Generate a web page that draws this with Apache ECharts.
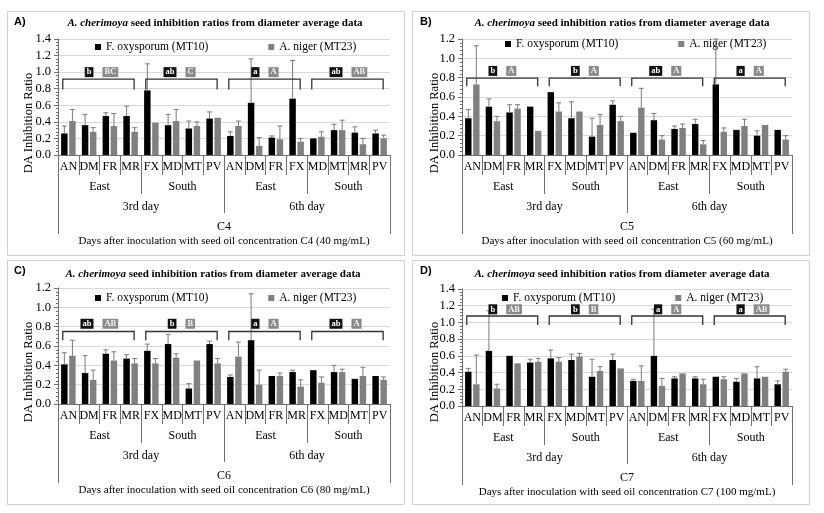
<!DOCTYPE html>
<html><head><meta charset="utf-8">
<script src="https://cdn.jsdelivr.net/npm/echarts/dist/echarts.min.js"></script>
<style>html,body{margin:0;padding:0;background:#fff}#c{width:824px;height:513px}</style>
</head><body><div id="c"></div><script>
// ---------- data ----------
const catsA = ['AN','DM','FR','MR','FX','MD','MT','PV','AN','DM','FR','FX','MD','MT','MR','PV'];
const catsB = ['AN','DM','FR','MR','FX','MD','MT','PV','AN','DM','FR','MR','FX','MD','MT','PV'];
const catsC = catsB.slice();
const catsD = catsB.slice();
const regions = ['East','South','East','South'];
const days = ['3rd day','6th day'];
const concLabels = ['C4','C5','C6','C7'];
const concTitles = [
  'Days after inoculation with seed oil concentration C4 (40 mg/mL)',
  'Days after inoculation with seed oil concentration C5 (60 mg/mL)',
  'Days after inoculation with seed oil concentration C6 (80 mg/mL)',
  'Days after inoculation with seed oil concentration C7 (100 mg/mL)'
];
const panelLetters = ['A)','B)','C)','D)'];
const seriesNames = ['F. oxysporum (MT10)','A. niger (MT23)'];
const yMaxes = [1.4,1.2,1.2,1.4];

const foxA   = [0.26,0.36,0.47,0.47,0.78,0.36,0.32,0.44, 0.23,0.63,0.21,0.68, 0.20,0.30,0.27,0.26];
const foxSdA = [0.09,0.13,0.04,0.12,0.32,0.13,0.09,0.08, 0.05,0.53,0.02,0.46, 0.00,0.07,0.07,0.04];
const nigA   = [0.41,0.28,0.35,0.28,0.39,0.41,0.35,0.45, 0.35,0.11,0.19,0.16, 0.22,0.30,0.13,0.20];
const nigSdA = [0.14,0.05,0.15,0.05,0.00,0.14,0.05,0.00, 0.06,0.10,0.16,0.04, 0.06,0.12,0.07,0.04];

const foxB   = [0.38,0.50,0.44,0.50,0.65,0.38,0.19,0.52, 0.23,0.36,0.27,0.32, 0.73,0.26,0.20,0.26];
const foxSdB = [0.09,0.08,0.08,0.00,0.00,0.17,0.19,0.04, 0.00,0.07,0.03,0.05, 0.47,0.00,0.05,0.00];
const nigB   = [0.73,0.35,0.48,0.25,0.45,0.45,0.31,0.35, 0.49,0.16,0.28,0.11, 0.24,0.30,0.31,0.16];
const nigSdB = [0.40,0.05,0.04,0.00,0.09,0.00,0.11,0.05, 0.20,0.04,0.04,0.04, 0.04,0.07,0.00,0.04];

const foxC   = [0.41,0.32,0.52,0.47,0.55,0.62,0.16,0.62, 0.28,0.66,0.29,0.33, 0.35,0.33,0.26,0.29];
const foxSdC = [0.12,0.18,0.04,0.04,0.07,0.10,0.05,0.03, 0.02,0.48,0.00,0.02, 0.00,0.07,0.00,0.00];
const nigC   = [0.50,0.25,0.45,0.42,0.42,0.48,0.45,0.42, 0.49,0.20,0.29,0.18, 0.22,0.33,0.29,0.25];
const nigSdC = [0.16,0.10,0.09,0.05,0.05,0.04,0.00,0.05, 0.15,0.15,0.03,0.07, 0.06,0.03,0.09,0.03];

const foxD   = [0.41,0.66,0.60,0.52,0.57,0.55,0.35,0.55, 0.30,0.60,0.33,0.33, 0.35,0.29,0.33,0.26];
const foxSdD = [0.04,0.48,0.00,0.04,0.10,0.07,0.21,0.07, 0.02,0.56,0.02,0.02, 0.00,0.04,0.14,0.04];
const nigD   = [0.26,0.21,0.51,0.53,0.53,0.59,0.42,0.45, 0.30,0.24,0.39,0.26, 0.32,0.39,0.35,0.41];
const nigSdD = [0.35,0.05,0.00,0.04,0.05,0.04,0.05,0.00, 0.18,0.09,0.00,0.06, 0.03,0.00,0.00,0.03];

const groupSpans = [[0,3],[4,7],[8,11],[12,15]];
const foxLettersA = ['b','ab','a','ab'];  const nigLettersA = ['BC','C','A','AB'];
const foxLettersB = ['b','b','ab','a'];   const nigLettersB = ['A','A','A','A'];
const foxLettersC = ['ab','b','a','ab'];  const nigLettersC = ['AB','B','A','A'];
const foxLettersD = ['b','b','a','a'];    const nigLettersD = ['AB','B','A','AB'];

// ---------- layout / style ----------
const SERIF = '"Liberation Serif","Times New Roman",serif';
const SANS = '"Liberation Sans",Arial,sans-serif';
const panels = [
  {cats:catsA, fox:foxA, foxSd:foxSdA, nig:nigA, nigSd:nigSdA, fl:foxLettersA, nl:nigLettersA,
   box:[7,11,397,244], grid:[58,39,332,116], leg:[95,41], title:[215,25], yname:[29,123], letter:[14,22], br:[0.915,0.79,1.0]},
  {cats:catsB, fox:foxB, foxSd:foxSdB, nig:nigB, nigSd:nigSdB, fl:foxLettersB, nl:nigLettersB,
   box:[412,11,397,244], grid:[462,39,330,116], leg:[505,38], title:[622,25], yname:[435,123], letter:[420,22], br:[0.795,0.71,0.87]},
  {cats:catsC, fox:foxC, foxSd:foxSdC, nig:nigC, nigSd:nigSdC, fl:foxLettersC, nl:nigLettersC,
   box:[7,260,397,244], grid:[58,288,332,116], leg:[95,292], title:[213,276], yname:[29,372], letter:[14,271], br:[0.75,0.66,0.83]},
  {cats:catsD, fox:foxD, foxSd:foxSdD, nig:nigD, nigSd:nigSdD, fl:foxLettersD, nl:nigLettersD,
   box:[412,260,397,244], grid:[462,289,330,117], leg:[502,292], title:[622,276], yname:[435,372], letter:[420,271], br:[1.077,0.97,1.157]}
];
const BAR_CAT_GAP = 0.30, BAR_GAP = 0.25;
const COLORS = ['#000000','#808080'];
const AXIS_COLOR = '#707070';

const grids=[], xAxes=[], yAxes=[], series=[], legends=[], titles=[], graphics=[];

panels.forEach((p,g)=>{
  grids.push({left:p.grid[0], top:p.grid[1], width:p.grid[2], height:p.grid[3]});
  const base = {gridIndex:g, type:'category', position:'bottom', boundaryGap:true,
    axisLine:{show:false, onZero:false}, splitLine:{show:false}};
  const tickStyle = {color:AXIS_COLOR, width:1};
  xAxes.push(Object.assign({}, base, {data:p.cats,
    axisLine:{show:true, onZero:false, lineStyle:{color:AXIS_COLOR}},
    axisTick:{show:true, interval:0, length:20, lineStyle:tickStyle},
    axisLabel:{interval:0, margin:6, fontSize:12, color:'#000', fontFamily:SERIF}}));
  xAxes.push(Object.assign({}, base, {data:regions,
    axisTick:{show:true, interval:0, length:39, lineStyle:tickStyle},
    axisLabel:{interval:0, margin:26, fontSize:12, color:'#000', fontFamily:SERIF}}));
  xAxes.push(Object.assign({}, base, {data:days,
    axisTick:{show:true, interval:0, length:58, lineStyle:tickStyle},
    axisLabel:{interval:0, margin:46, fontSize:12, color:'#000', fontFamily:SERIF}}));
  xAxes.push(Object.assign({}, base, {data:[concLabels[g]],
    axisTick:{show:true, interval:0, length:79, lineStyle:tickStyle},
    axisLabel:{interval:0, margin:66, fontSize:12, color:'#000', fontFamily:SERIF},
    name:concTitles[g], nameLocation:'middle', nameGap:81,
    nameTextStyle:{fontSize:11, color:'#000', fontFamily:SERIF}}));
  yAxes.push({gridIndex:g, type:'value', min:0, max:yMaxes[g], interval:0.2,
    axisLine:{show:true, lineStyle:{color:AXIS_COLOR}},
    axisTick:{show:true, length:4, lineStyle:{color:AXIS_COLOR}},
    minorTick:{show:true, splitNumber:5, length:2, lineStyle:{color:AXIS_COLOR}},
    axisLabel:{formatter:v=>v.toFixed(1), fontSize:12.5, color:'#000', fontFamily:SERIF, margin:7},
    splitLine:{show:true, lineStyle:{color:'#d9d9d9', width:1}}});

  const xi = g*4;
  [p.fox, p.nig].forEach((vals,k)=>{
    series.push({type:'bar', name:seriesNames[k], xAxisIndex:xi, yAxisIndex:g, data:vals,
      barCategoryGap:(BAR_CAT_GAP*100)+'%', barGap:(BAR_GAP*100)+'%',
      itemStyle:{color:COLORS[k]}, z:2, silent:true});
  });
  // error bars
  [[p.fox,p.foxSd],[p.nig,p.nigSd]].forEach(([vals,sds],k)=>{
    series.push({type:'custom', name:seriesNames[k]+' err', xAxisIndex:xi, yAxisIndex:g, z:5, silent:true,
      data: vals.map((v,i)=>[i, v, sds[i]]), encode:{x:0, y:1},
      renderItem:(params, api)=>{
        const sd = api.value(2); if(!sd) return null;
        const w = api.size([1,0])[0];
        const bw = w*(1-BAR_CAT_GAP)/(2+BAR_GAP);
        const off = k===0 ? (-w*(1-BAR_CAT_GAP)/2 + bw/2) : (w*(1-BAR_CAT_GAP)/2 - bw/2);
        const p0 = api.coord([api.value(0), api.value(1)]);
        const p1 = api.coord([api.value(0), api.value(1)+sd]);
        const x = p0[0]+off;
        const st = {stroke:'#7a7a7a', lineWidth:1};
        return {type:'group', children:[
          {type:'line', shape:{x1:x, y1:p0[1], x2:x, y2:p1[1]}, style:st},
          {type:'line', shape:{x1:x-2.5, y1:p1[1], x2:x+2.5, y2:p1[1]}, style:st}
        ]};
      }});
  });
  // significance brackets
  series.push({type:'custom', name:'brackets', xAxisIndex:xi, yAxisIndex:g, z:6, silent:true,
    data: groupSpans.map(s=>[s[0], s[1], p.br[0]]), encode:{x:[0,1], y:2},
    renderItem:(params, api)=>{
      const i = params.dataIndex;
      const w = api.size([1,0])[0];
      const a = api.coord([api.value(0), p.br[0]]);
      const b = api.coord([api.value(1), p.br[0]]);
      const yF = api.coord([api.value(0), p.br[1]])[1];
      const yT = api.coord([api.value(0), p.br[2]])[1];
      const x1 = a[0]-0.27*w, x2 = b[0]+0.17*w, yL = a[1];
      const c = (x1+x2)/2;
      return {type:'group', children:[
        {type:'polyline', shape:{points:[[x1,yF],[x1,yL],[x2,yL],[x2,yF]]}, style:{stroke:'#333', lineWidth:1.3, fill:null}},
        {type:'text', x:c-5, y:yT, style:{text:p.fl[i], fill:'#fff', backgroundColor:'#111', padding:[1,2,0,2],
          font:'bold 8.5px '+SERIF, align:'right', verticalAlign:'middle'}},
        {type:'text', x:c+4, y:yT, style:{text:p.nl[i], fill:'#f2f2f2', backgroundColor:'#8a8a8a', padding:[1,2,0,2],
          font:'bold 8.5px '+SERIF, align:'left', verticalAlign:'middle'}}
      ]};
    }});

  legends.push({data:seriesNames.map(n=>({name:n, icon:'rect'})), left:p.leg[0], top:p.leg[1], padding:0,
    itemWidth:6, itemHeight:6, itemGap:60, selectedMode:false,
    textStyle:{fontSize:11.5, color:'#000', fontFamily:SERIF}});
  titles.push({text:'{i|A. cherimoya}{b| seed inhibition ratios from diameter average data}',
    left:p.title[0], top:p.title[1]-7, textAlign:'center', padding:0,
    textStyle:{rich:{i:{fontStyle:'italic', fontWeight:'bold', fontSize:11, fontFamily:SERIF, color:'#000'},
                     b:{fontWeight:'bold', fontSize:11, fontFamily:SERIF, color:'#000'}}}});
  graphics.push({type:'rect', shape:{x:p.box[0]+0.5, y:p.box[1]+0.5, width:p.box[2], height:p.box[3]},
    style:{fill:null, stroke:'#cfcfcf', lineWidth:1}, z:-1, silent:true});
  graphics.push({type:'text', x:p.letter[0], y:p.letter[1], style:{text:panelLetters[g], font:'bold 11px '+SANS, fill:'#000',
    verticalAlign:'middle'}, silent:true});
  graphics.push({type:'text', x:p.yname[0], y:p.yname[1], rotation:Math.PI/2,
    style:{text:'DA Inhibition Ratio', font:'12.5px '+SERIF, fill:'#000', align:'center', verticalAlign:'middle'}, silent:true});
});

const chart = echarts.init(document.getElementById('c'), null, {renderer:'canvas'});
chart.setOption({animation:false, backgroundColor:'#fff', grid:grids, xAxis:xAxes, yAxis:yAxes,
  series:series, legend:legends, title:titles, graphic:graphics});
</script></body></html>
